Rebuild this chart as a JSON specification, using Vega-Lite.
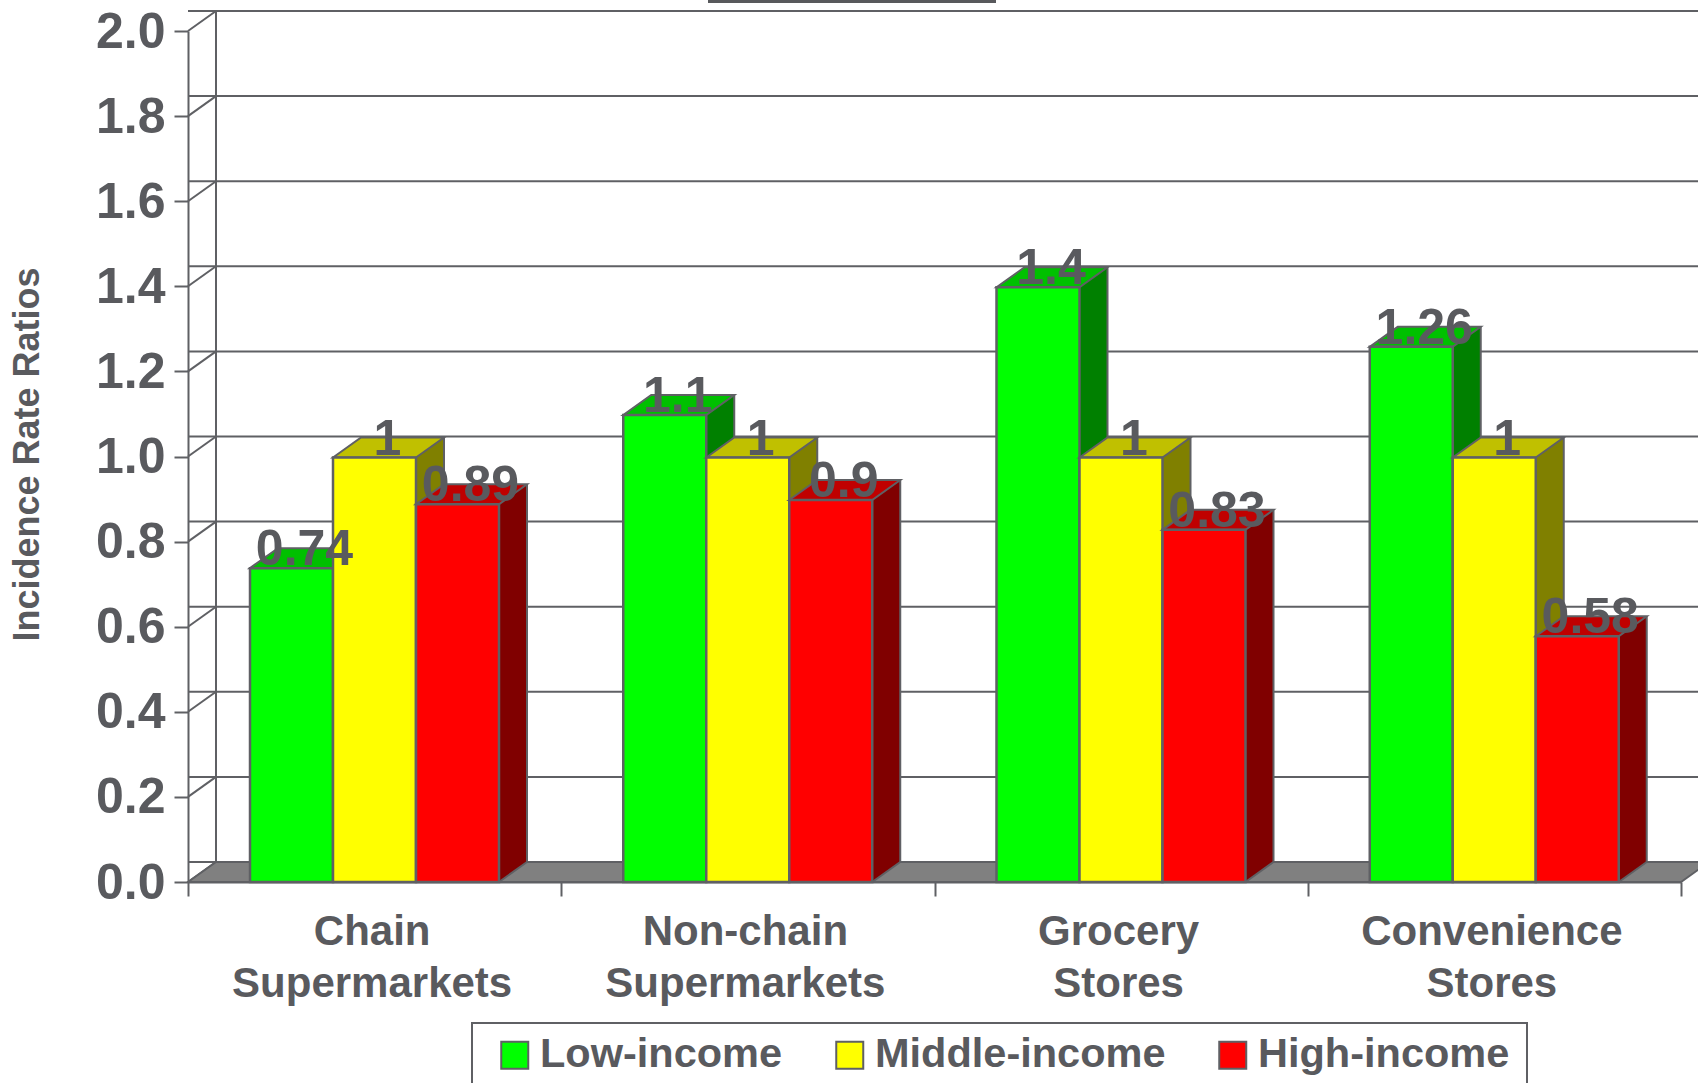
{
"$schema":"https://vega.github.io/schema/vega-lite/v6.json",
"width":1493,"height":851,
"autosize":{"type":"none"},
"padding":{"left":188,"top":31,"right":17,"bottom":201},
"background":"white",
"view":{"stroke":null},
"datasets":{
"bars":[
{"store":"Chain Supermarkets","income":"Low-income","ratio":0.74,"label":"0.74"},
{"store":"Chain Supermarkets","income":"Middle-income","ratio":1,"label":"1"},
{"store":"Chain Supermarkets","income":"High-income","ratio":0.89,"label":"0.89"},
{"store":"Non-chain Supermarkets","income":"Low-income","ratio":1.1,"label":"1.1"},
{"store":"Non-chain Supermarkets","income":"Middle-income","ratio":1,"label":"1"},
{"store":"Non-chain Supermarkets","income":"High-income","ratio":0.9,"label":"0.9"},
{"store":"Grocery Stores","income":"Low-income","ratio":1.4,"label":"1.4"},
{"store":"Grocery Stores","income":"Middle-income","ratio":1,"label":"1"},
{"store":"Grocery Stores","income":"High-income","ratio":0.83,"label":"0.83"},
{"store":"Convenience Stores","income":"Low-income","ratio":1.26,"label":"1.26"},
{"store":"Convenience Stores","income":"Middle-income","ratio":1,"label":"1"},
{"store":"Convenience Stores","income":"High-income","ratio":0.58,"label":"0.58"}
],
"ticks":[{"t":0},{"t":0.2},{"t":0.4},{"t":0.6},{"t":0.8},{"t":1.0},{"t":1.2},{"t":1.4},{"t":1.6},{"t":1.8},{"t":2.0}]
},
"data":{"name":"bars"},
"encoding":{
"x":{"field":"store","type":"nominal","sort":null,"scale":{"paddingInner":0,"paddingOuter":0},
"axis":{"title":null,"labelAngle":0,"labelFont":"Liberation Sans","labelFontWeight":"bold","labelFontSize":42,"labelColor":"#595a5e","labelLineHeight":52,"labelExpr":"split(datum.label,' ')","labelOffset":-3,"labelPadding":15,"tickColor":"#5f6064","tickWidth":2,"tickSize":14,"domainColor":"#5f6064","domainWidth":2,"bandPosition":0,"tickBand":"extent","labelLimit":0}},
"y":{"field":"ratio","type":"quantitative","stack":null,"scale":{"domain":[0,2],"nice":false},
"axis":{"title":"Incidence Rate Ratios","titleFont":"Liberation Sans","titleFontWeight":"bold","titleFontSize":36,"titleColor":"#595a5e","titleX":-142,"titleY":423,"labelFont":"Liberation Sans","labelFontWeight":"bold","labelFontSize":50,"labelColor":"#595a5e","labelPadding":9,"labelOffset":1,"values":[0,0.2,0.4,0.6,0.8,1,1.2,1.4,1.6,1.8,2],"format":".1f","tickColor":"#5f6064","tickWidth":2,"tickSize":14,"domainColor":"#5f6064","domainWidth":2,"grid":false}},
"color":{"field":"income","type":"nominal","sort":null,"scale":{"domain":["Low-income","Middle-income","High-income"],"range":["#00ff00","#ffff00","#ff0000"]},"legend":null}
},
"layer":[
{"data":{"name":"ticks"},"mark":{"type":"rule","color":"#5f6064","strokeWidth":2,"xOffset":28,"yOffset":-20},"encoding":{"x":null,"color":null,"y":{"field":"t","type":"quantitative"}}},
{"data":{"name":"ticks"},"mark":{"type":"point","shape":"M0,0L28,-20","size":4,"stroke":"#5f6064","strokeWidth":2,"filled":false,"opacity":1},"encoding":{"color":null,"x":{"datum":"Chain Supermarkets","bandPosition":0},"y":{"field":"t","type":"quantitative"}}},
{"data":{"name":"ticks"},"transform":[{"filter":"datum.t===0"}],"mark":{"type":"point","shape":"M0,0L28,-20L1521,-20L1493,0Z","size":4,"fill":"#808080","stroke":"#5f6064","strokeWidth":2,"filled":true,"opacity":1},"encoding":{"color":null,"x":{"datum":"Chain Supermarkets","bandPosition":0},"y":{"field":"t","type":"quantitative"}}},
{"data":{"name":"ticks"},"transform":[{"filter":"datum.t===0"}],"mark":{"type":"point","shape":"M28,-20L28,-870","size":4,"stroke":"#5f6064","strokeWidth":2,"filled":false,"opacity":1},"encoding":{"color":null,"x":{"datum":"Chain Supermarkets","bandPosition":0},"y":{"field":"t","type":"quantitative"}}},
{"data":{"name":"ticks"},"transform":[{"filter":"datum.t===0"}],"mark":{"type":"point","shape":"M520,-880.5L808,-880.5","size":4,"stroke":"#58595c","strokeWidth":3,"filled":false,"opacity":1},"encoding":{"color":null,"x":{"datum":"Chain Supermarkets","bandPosition":0},"y":{"field":"t","type":"quantitative"}}},
{"data":{"name":"ticks"},"transform":[{"filter":"datum.t===0"}],"mark":{"type":"point","shape":"M284,210L284,141L1339,141L1339,210","size":4,"stroke":"#5f6064","strokeWidth":2,"filled":false,"opacity":1},"encoding":{"color":null,"x":{"datum":"Chain Supermarkets","bandPosition":0},"y":{"field":"t","type":"quantitative"}}},

{"transform":[{"filter":"datum.income==='Low-income'"}],"encoding":{"xOffset":{"value":103.5}},"layer":[
{"mark":{"type":"bar","width":28,"fill":"#008000","yOffset":1,"y2Offset":-20},"encoding":{"color":null,"y2":{"datum":0},"xOffset":{"value":159}}},
{"mark":{"type":"point","shape":"M41.5,0L69.5,-20L69.5,2L41.5,2Z","size":4,"fill":"#008000","strokeWidth":0,"filled":true,"opacity":1,"yOffset":1},"encoding":{"color":null}},
{"mark":{"type":"point","shape":"M41.5,0L41.5,-22L69.5,-22L69.5,-20Z","size":4,"fill":"#008000","strokeWidth":0,"filled":true,"opacity":1},"encoding":{"color":null,"y":{"datum":0}}},
{"mark":{"type":"point","shape":"M41.5,0L69.5,-20","size":4,"stroke":"#5f6064","strokeWidth":2,"filled":false,"opacity":1},"encoding":{"color":null,"y":{"datum":0}}},
{"mark":{"type":"bar","width":2,"fill":"#5f6064","yOffset":-19,"y2Offset":-20},"encoding":{"color":null,"y2":{"datum":0},"xOffset":{"value":173}}},
{"mark":{"type":"point","shape":"M-41.5,0L-13.5,-20L69.5,-20L41.5,0Z","size":4,"fill":"#00c000","stroke":"#5f6064","strokeWidth":2,"filled":true,"opacity":1,"yOffset":1},"encoding":{"color":null}},
{"mark":{"type":"bar","width":83,"stroke":"#5f6064","strokeWidth":2.5,"yOffset":1,"y2Offset":0.01},"encoding":{"y2":{"datum":0},"color":{"field":"income","type":"nominal","sort":null,"scale":{"domain":["Low-income","Middle-income","High-income"],"range":["#00ff00","#ffff00","#ff0000"]},"legend":{"title":null,"orient":"none","legendX":306,"legendY":1003,"direction":"horizontal","columns":3,"padding":0,"symbolType":"square","symbolSize":729,"symbolStrokeColor":"#5f6064","symbolStrokeWidth":2,"symbolOpacity":1,"labelFont":"Liberation Sans","labelFontWeight":"bold","labelFontSize":41.5,"labelColor":"#595a5e","labelOffset":4.5,"columnPadding":46,"labelLimit":0}}}}
]},

{"transform":[{"filter":"datum.income==='Middle-income'"}],"encoding":{"xOffset":{"value":186.5}},"layer":[
{"mark":{"type":"bar","width":28,"fill":"#808000","yOffset":1,"y2Offset":-20},"encoding":{"color":null,"y2":{"datum":0},"xOffset":{"value":242}}},
{"mark":{"type":"point","shape":"M41.5,0L69.5,-20L69.5,2L41.5,2Z","size":4,"fill":"#808000","strokeWidth":0,"filled":true,"opacity":1,"yOffset":1},"encoding":{"color":null}},
{"mark":{"type":"point","shape":"M41.5,0L41.5,-22L69.5,-22L69.5,-20Z","size":4,"fill":"#808000","strokeWidth":0,"filled":true,"opacity":1},"encoding":{"color":null,"y":{"datum":0}}},
{"mark":{"type":"point","shape":"M41.5,0L69.5,-20","size":4,"stroke":"#5f6064","strokeWidth":2,"filled":false,"opacity":1},"encoding":{"color":null,"y":{"datum":0}}},
{"mark":{"type":"bar","width":2,"fill":"#5f6064","yOffset":-19,"y2Offset":-20},"encoding":{"color":null,"y2":{"datum":0},"xOffset":{"value":256}}},
{"mark":{"type":"point","shape":"M-41.5,0L-13.5,-20L69.5,-20L41.5,0Z","size":4,"fill":"#c0c000","stroke":"#5f6064","strokeWidth":2,"filled":true,"opacity":1,"yOffset":1},"encoding":{"color":null}},
{"mark":{"type":"bar","width":83,"stroke":"#5f6064","strokeWidth":2.5,"yOffset":1,"y2Offset":0.01},"encoding":{"y2":{"datum":0}}}
]},

{"transform":[{"filter":"datum.income==='High-income'"}],"encoding":{"xOffset":{"value":269.5}},"layer":[
{"mark":{"type":"bar","width":28,"fill":"#800000","yOffset":1,"y2Offset":-20},"encoding":{"color":null,"y2":{"datum":0},"xOffset":{"value":325}}},
{"mark":{"type":"point","shape":"M41.5,0L69.5,-20L69.5,2L41.5,2Z","size":4,"fill":"#800000","strokeWidth":0,"filled":true,"opacity":1,"yOffset":1},"encoding":{"color":null}},
{"mark":{"type":"point","shape":"M41.5,0L41.5,-22L69.5,-22L69.5,-20Z","size":4,"fill":"#800000","strokeWidth":0,"filled":true,"opacity":1},"encoding":{"color":null,"y":{"datum":0}}},
{"mark":{"type":"point","shape":"M41.5,0L69.5,-20","size":4,"stroke":"#5f6064","strokeWidth":2,"filled":false,"opacity":1},"encoding":{"color":null,"y":{"datum":0}}},
{"mark":{"type":"bar","width":2,"fill":"#5f6064","yOffset":-19,"y2Offset":-20},"encoding":{"color":null,"y2":{"datum":0},"xOffset":{"value":339}}},
{"mark":{"type":"point","shape":"M-41.5,0L-13.5,-20L69.5,-20L41.5,0Z","size":4,"fill":"#c00000","stroke":"#5f6064","strokeWidth":2,"filled":true,"opacity":1,"yOffset":1},"encoding":{"color":null}},
{"mark":{"type":"bar","width":83,"stroke":"#5f6064","strokeWidth":2.5,"yOffset":1,"y2Offset":0.01},"encoding":{"y2":{"datum":0}}}
]},

{"transform":[{"filter":"datum.income==='Low-income'"}],"mark":{"type":"text","font":"Liberation Sans","fontWeight":"bold","fontSize":50,"fill":"#595a5e","baseline":"alphabetic","align":"center","dy":-2},"encoding":{"color":null,"xOffset":{"value":116.5},"text":{"field":"label"}}},
{"transform":[{"filter":"datum.income==='Middle-income'"}],"mark":{"type":"text","font":"Liberation Sans","fontWeight":"bold","fontSize":50,"fill":"#595a5e","baseline":"alphabetic","align":"center","dy":-2},"encoding":{"color":null,"xOffset":{"value":199.5},"text":{"field":"label"}}},
{"transform":[{"filter":"datum.income==='High-income'"}],"mark":{"type":"text","font":"Liberation Sans","fontWeight":"bold","fontSize":50,"fill":"#595a5e","baseline":"alphabetic","align":"center","dy":-2},"encoding":{"color":null,"xOffset":{"value":282.5},"text":{"field":"label"}}}
]
}
